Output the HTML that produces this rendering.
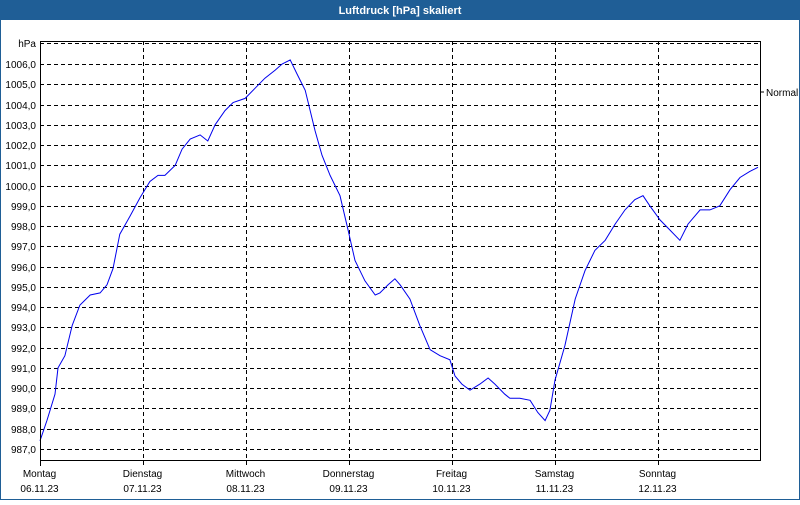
<!DOCTYPE html>
<html><head><meta charset="utf-8"><style>
body{margin:0;width:800px;height:500px;overflow:hidden;background:#fff;font-family:"Liberation Sans",sans-serif}
</style></head><body>
<svg width="800" height="500" xmlns="http://www.w3.org/2000/svg" font-family="Liberation Sans, sans-serif">
<rect x="0.5" y="0.5" width="799" height="499" fill="#fff" stroke="#1f5e96"/>
<rect x="0" y="0" width="800" height="20" fill="#1f5e96"/>
<text x="400" y="14" text-anchor="middle" font-size="11" font-weight="bold" fill="#fff">Luftdruck [hPa] skaliert</text>
<g id="grid"></g>
<g id="labels"></g>
<path id="line" fill="none" stroke="#0000ee" stroke-width="1"/>
<rect x="40.5" y="41.5" width="720" height="419" fill="none" stroke="#000"/>
<line x1="760" y1="92" x2="764" y2="92" stroke="#000"/>
<text x="766" y="96" font-size="10" fill="#000">Normal</text>
</svg>
<script>
const yTicks=[1006,1005,1004,1003,1002,1001,1000,999,998,997,996,995,994,993,992,991,990,989,988,987];
const days=["Montag","Dienstag","Mittwoch","Donnerstag","Freitag","Samstag","Sonntag"];
const dates=["06.11.23","07.11.23","08.11.23","09.11.23","10.11.23","11.11.23","12.11.23"];
const hours=[0,1.6,3.5,4.2,5.8,7.5,9.3,11.7,14,15.6,17,18.6,21,23.3,25.6,27.5,29.1,31.5,33.1,35,37.3,39.1,40.8,43.1,45,47.8,50.1,52.4,54.8,56.4,58.3,59.9,61.8,64.1,65.7,67.6,69.9,71.8,73.4,75.7,78.1,79.2,81.1,82.7,83.9,86.2,88.5,90.9,93.2,95.5,96.7,98.3,100.2,102.5,104.4,106,108.3,109.5,111.8,114.2,116,117.7,118.8,120,122.3,124.7,127,129.3,131.7,134,136.3,138.6,140.5,142.1,144.5,146.8,149.1,151,153.8,156.1,158.4,160.8,163.1,165.4,167.3];
const pressure=[987.4,988.4,989.7,991.0,991.6,993.1,994.1,994.6,994.7,995.1,995.9,997.6,998.5,999.4,1000.2,1000.5,1000.5,1001.0,1001.8,1002.3,1002.5,1002.2,1003.0,1003.7,1004.1,1004.3,1004.8,1005.3,1005.7,1006.0,1006.2,1005.5,1004.7,1002.7,1001.5,1000.5,999.5,997.8,996.3,995.3,994.6,994.7,995.1,995.4,995.1,994.4,993.1,991.9,991.6,991.4,990.6,990.2,989.9,990.2,990.5,990.2,989.7,989.5,989.5,989.4,988.8,988.4,988.9,990.4,992.1,994.4,995.8,996.8,997.3,998.1,998.8,999.3,999.5,999.0,998.3,997.8,997.3,998.1,998.8,998.8,999.0,999.8,1000.4,1000.7,1000.9];
const X=h=>40+h/24*103;
const Y=v=>64+(1006-v)*20.26;
const NS="http://www.w3.org/2000/svg";
const grid=document.getElementById('grid'),labels=document.getElementById('labels');
function mk(tag,attrs,parent){const e=document.createElementNS(NS,tag);for(const k in attrs)e.setAttribute(k,attrs[k]);parent.appendChild(e);return e;}
// hPa top line
let l=mk('line',{x1:40,x2:760,y1:43.5,y2:43.5,stroke:'#000','stroke-dasharray':'4,3'},grid);


let t=mk('text',{x:36,y:47,'text-anchor':'end','font-size':'10'},labels);t.textContent='hPa';


yTicks.forEach(v=>{const y=Math.round(Y(v))+0.5;
 const g=mk('line',{x1:40,x2:760,y1:y,y2:y,stroke:'#000','stroke-dasharray':'4,3'},grid);
 
 
 const tx=mk('text',{x:36,y:y+3.5,'text-anchor':'end','font-size':'10'},labels);tx.textContent=v.toFixed(1).replace('.',',');
 
 
});
days.forEach((d,i)=>{const x=Math.round(X(i*24))+0.5;
 if(i>0){const g=mk('line',{x1:x,x2:x,y1:41,y2:466,stroke:'#000','stroke-dasharray':'4,3'},grid);
 
 }
 else{const g=mk('line',{x1:x,x2:x,y1:460,y2:466,stroke:'#000'},grid);
 
 }
 const a=mk('text',{x:x-1,y:477,'text-anchor':'middle','font-size':'10'},labels);a.textContent=d;
 
 
 const b=mk('text',{x:x-1,y:492,'text-anchor':'middle','font-size':'10'},labels);b.textContent=dates[i];
 
 
});
document.getElementById('line').setAttribute('d',hours.map((h,i)=>(i?'L':'M')+X(h).toFixed(1)+','+Y(pressure[i]).toFixed(1)).join(''));
</script>
</body></html>
